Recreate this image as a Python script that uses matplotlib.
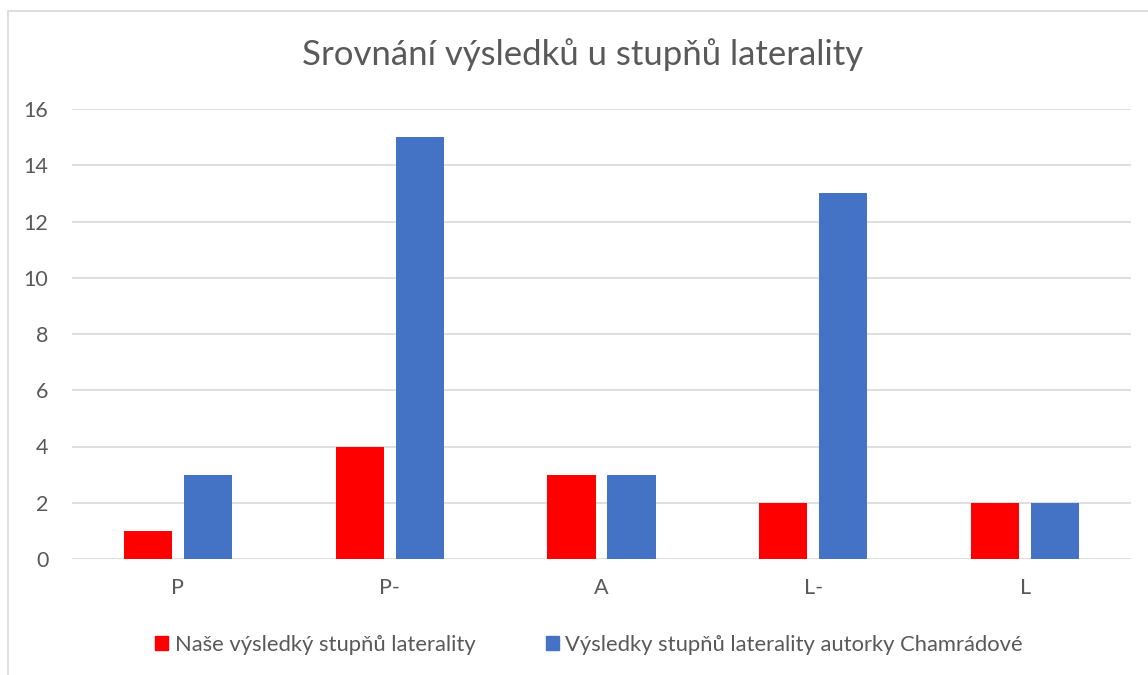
import numpy as np
import matplotlib
matplotlib.use("agg")
import matplotlib.pyplot as plt
from matplotlib.patches import Rectangle, Patch

plt.rcParams['font.family'] = ['Lato', 'DejaVu Sans']

# data
kategorie = ["P", "P-", "A", "L-", "L"]
nase = [1, 4, 3, 2, 2]
chamradova = [3, 15, 3, 13, 2]
nazvy = ["Naše výsledký stupňů laterality", "Výsledky stupňů laterality autorky Chamrádové"]

seda = "#595959"

fig = plt.figure(figsize=(11.48, 6.75), dpi=100)
# ram kolem grafu
fig.patches.append(Rectangle((8 / 1148, -0.1), 1.2, 1 - 11 / 675 + 0.1,
                             transform=fig.transFigure, fill=False,
                             edgecolor="#d9d9d9", linewidth=1.2))

ax = fig.add_axes([72 / 1148, 1 - 559 / 675, (1131 - 72) / 1148, (559 - 109) / 675])
x = np.arange(len(kategorie))
w = 0.227
ax.bar(x - 0.1416, nase, w, color="#ff0000", label=nazvy[0], zorder=3)
ax.bar(x + 0.1416, chamradova, w, color="#4472c4", label=nazvy[1], zorder=3)

ax.set_xlim(-0.5, 4.5)
ax.set_ylim(0, 16)
ax.set_yticks(range(0, 17, 2))
ax.set_xticks(x)
ax.set_xticklabels(kategorie)
ax.grid(axis="y", color="#d9d9d9", linewidth=1.2, zorder=0)
for s in ax.spines.values():
    s.set_visible(False)
ax.tick_params(length=0, labelsize=15.5, colors=seda, pad=14)
ax.tick_params(axis="y", pad=17)

fig.text(583 / 1148, 1 - 55 / 675, "Srovnání výsledků u stupňů laterality",
         ha="center", va="center", fontsize=25, color=seda)

h = [Patch(color="#ff0000"), Patch(color="#4472c4")]
fig.legend(h, nazvy, loc="center", bbox_to_anchor=(589 / 1148, 1 - 645 / 675),
           ncol=2, frameon=False, fontsize=15.8, labelcolor=seda,
           handlelength=0.6, handleheight=0.6, handletextpad=0.3, columnspacing=3.2)

plt.savefig("out.png", dpi=100)
